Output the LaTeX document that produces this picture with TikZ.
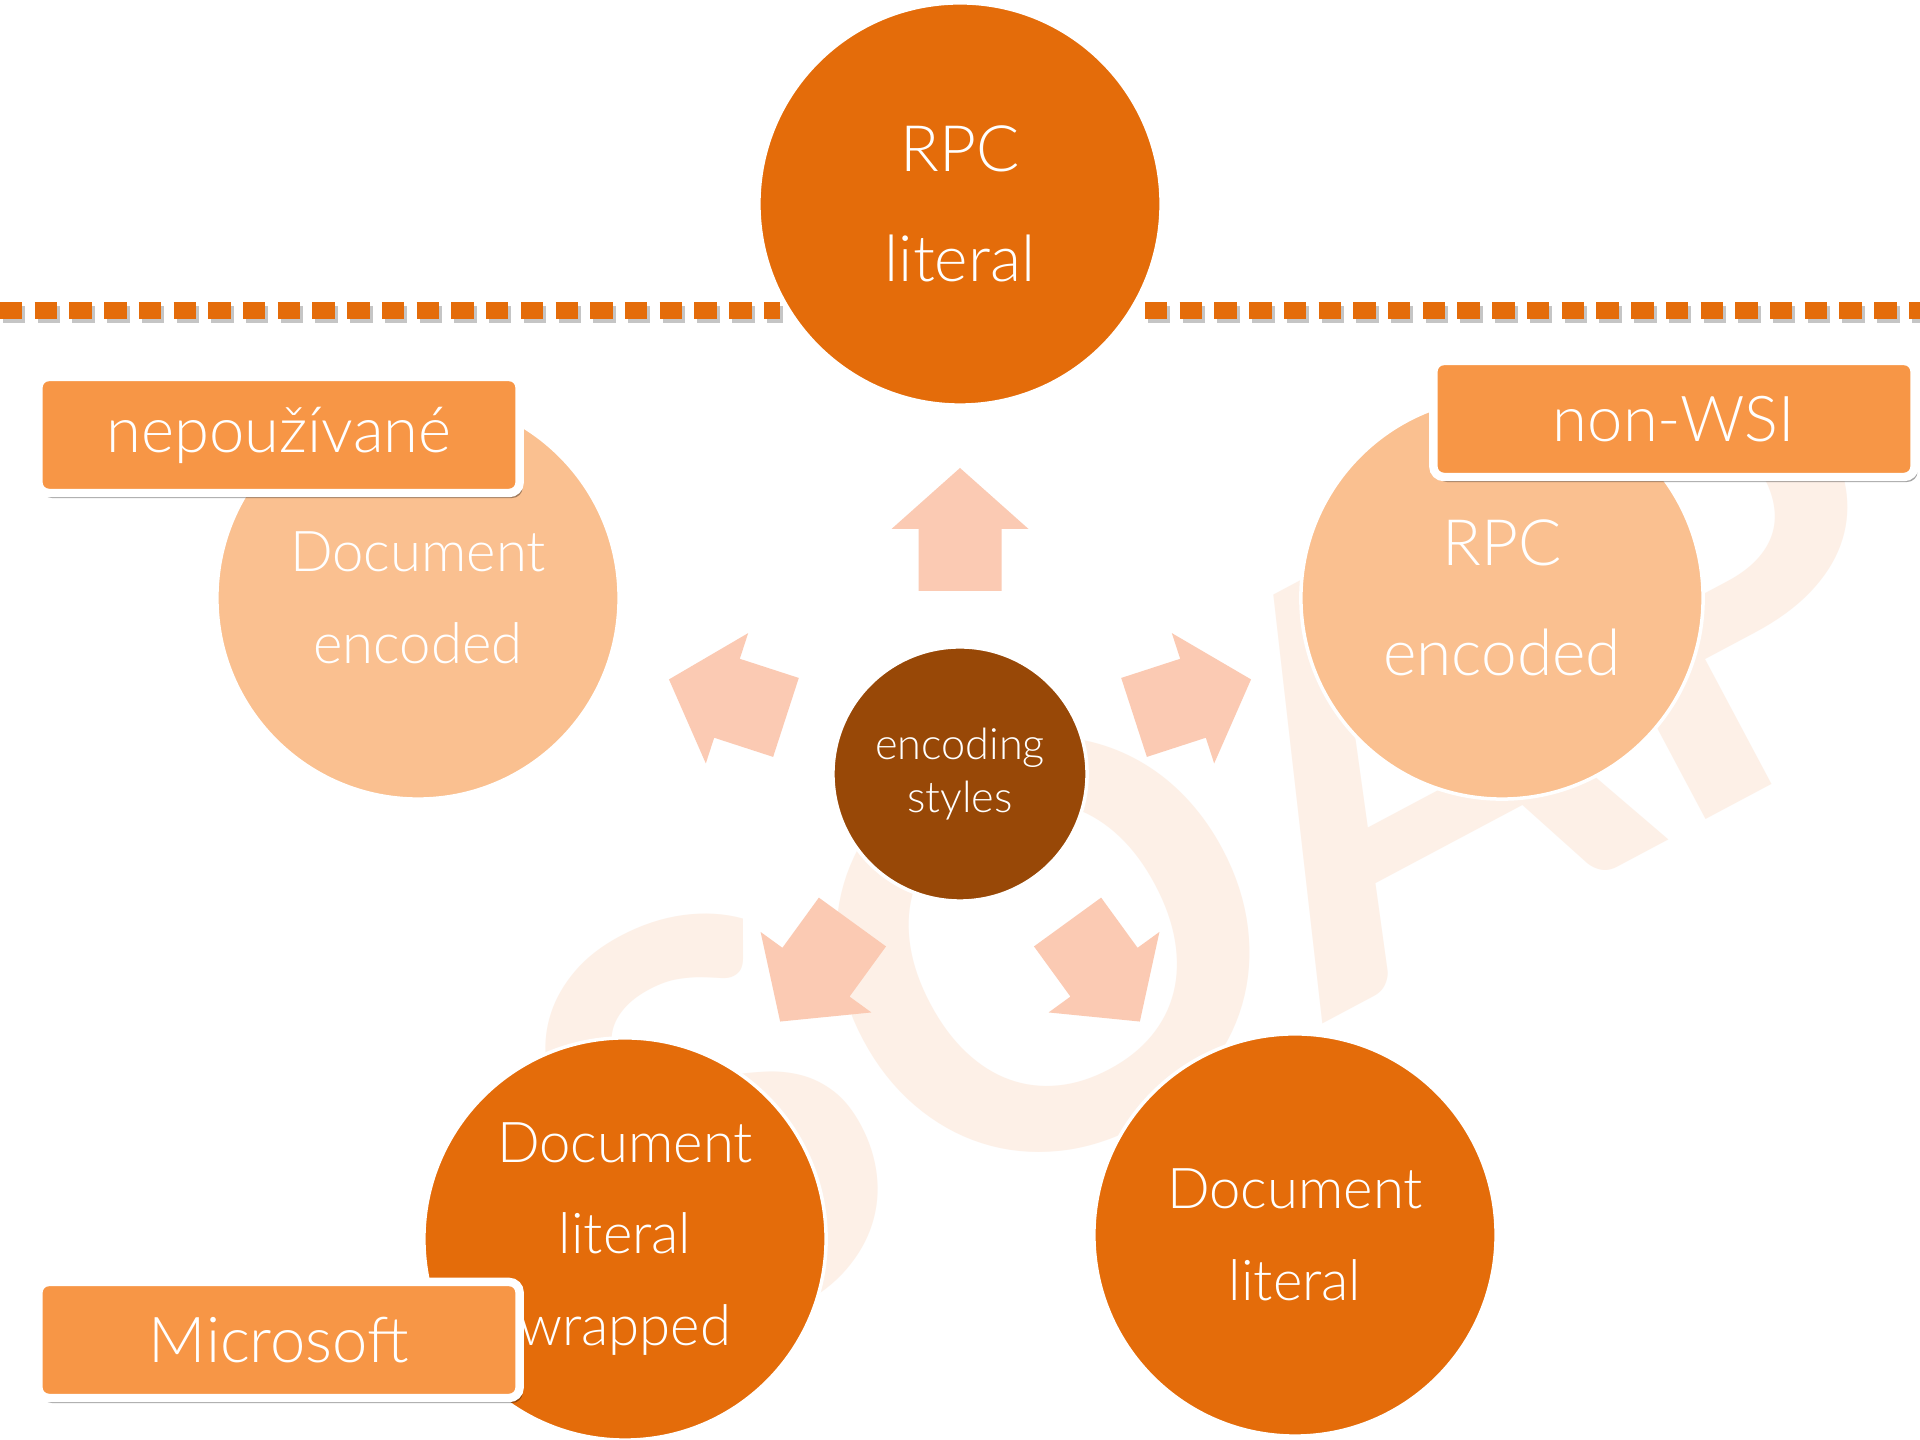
\documentclass[tikz,border=0pt]{standalone}
\usepackage{fontspec}
\setmainfont{Lato}[UprightFont = * Light, BoldFont = * Bold]
\usetikzlibrary{shadows}
\definecolor{darkOrange}{HTML}{E46C0A}
\definecolor{paleOrange}{HTML}{FAC090}
\definecolor{hubBrown}{HTML}{984807}
\definecolor{tagOrange}{HTML}{F79646}
\definecolor{arrowPink}{HTML}{FBCAB3}
\definecolor{markTint}{HTML}{FDF0E7}
\begin{document}
\begin{tikzpicture}[x=0.01cm, y=0.01cm]
	\tikzstyle{circleStyle}=[shape = circle, minimum size = 4.02cm, inner sep = 0pt, draw = white, line width = 1pt, text = white, align = center]
	\tikzstyle{darkStyle}=[circleStyle, fill = darkOrange]
	\tikzstyle{paleStyle}=[circleStyle, fill = paleOrange]
	\tikzstyle{hubStyle}=[circleStyle, fill = hubBrown, minimum size = 2.54cm, font = \fontsize{12.3}{15}\selectfont]
	\tikzstyle{bigText}=[font = \fontsize{18.2}{31.3}\selectfont]
	\tikzstyle{smallText}=[font = \fontsize{16}{26}\selectfont]
	\tikzstyle{tagStyle}=[shape = rectangle, rounded corners = 3pt, minimum width = 4.81cm, minimum height = 1.16cm, fill = tagOrange, draw = white, line width = 2.4pt, text = white, font = \fontsize{18}{20}\selectfont, drop shadow = {shadow xshift = 0.03cm, shadow yshift = -0.05cm, opacity = 0.35, fill = black}]
	\tikzstyle{arrowStyle}=[fill = arrowPink]
	\tikzstyle{dashStyle}=[line width = 0.17cm, dash pattern = on 0.224cm off 0.123cm]
	\fill[white] (0,0) rectangle (1920,1440);
	\useasboundingbox (0,0) rectangle (1920,1440);
	\node[text = markTint, rotate = 28, font = \fontsize{158}{158}\selectfont\bfseries] (soap) at (1225,592) {SOAP};
	\draw[dashStyle, draw = black!45, opacity = 0.5] (3,1125) -- (783,1125);
	\draw[dashStyle, draw = black!45, opacity = 0.5] (1148,1125) -- (1923,1125);
	\draw[dashStyle, draw = darkOrange] (0,1129) -- (780,1129);
	\draw[dashStyle, draw = darkOrange] (1145,1129) -- (1920,1129);
	\node[hubStyle] (hub) at (960,666) {encoding\\styles};
	\foreach \a in {90,162,18,234,306}
		\fill[arrowStyle, shift = {(hub.center)}, rotate = \a] (183,-41.5) -- (245,-41.5) -- (245,-68.5) -- (306,0) -- (245,68.5) -- (245,41.5) -- (183,41.5) -- cycle;
	\node[darkStyle, bigText] (rpcLit) at (960,1236) {RPC\\literal};
	\node[paleStyle, smallText] (docEnc) at (418,842) {Document\\encoded};
	\node[paleStyle, bigText] (rpcEnc) at (1502,842) {RPC\\encoded};
	\node[darkStyle, smallText] (docWrap) at (625,201) {Document\\literal\\wrapped};
	\node[darkStyle, smallText] (docLit) at (1295,205) {Document\\literal};
	\node[tagStyle] (unused) at (279,1005) {nepoužívané};
	\node[tagStyle] (nonWsi) at (1674,1021) {non-WSI};
	\node[tagStyle] (msoft) at (279,100) {Microsoft};
\end{tikzpicture}
\end{document}
